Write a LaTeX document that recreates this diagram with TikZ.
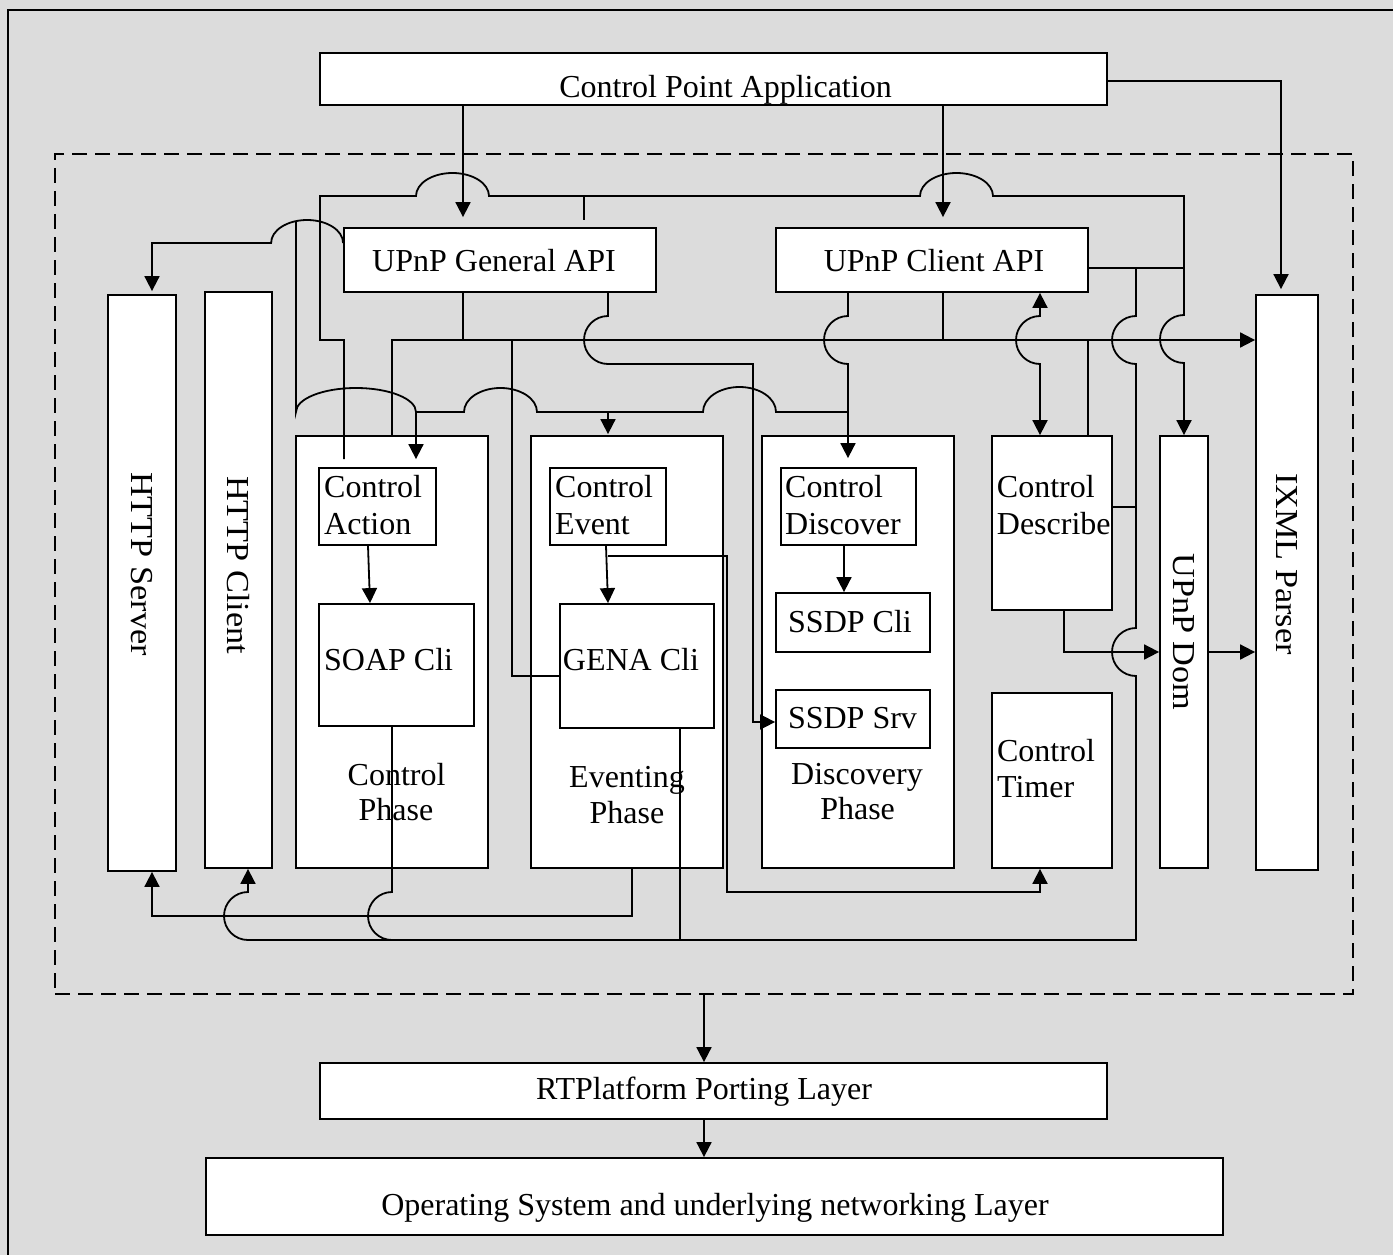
\documentclass[tikz,border=0pt]{standalone}
\usepackage{fontspec}
\setmainfont{Liberation Serif}
\usetikzlibrary{arrows.meta}
\definecolor{bg}{RGB}{220,220,220}
\begin{document}
\begin{tikzpicture}[x=1pt,y=-1pt,
  wire/.style={line width=1.8pt},
  arr/.style={wire,-{Triangle[length=15pt,width=15pt]}},
  darr/.style={wire,{Triangle[length=15pt,width=15pt]}-{Triangle[length=15pt,width=15pt]}},
  box/.style={draw,fill=white,inner sep=0pt,line width=1.8pt},
  txt/.style={inner sep=0pt,anchor=base},
  txtl/.style={inner sep=0pt,anchor=base west},
  vtxt/.style={inner sep=0pt,rotate=-90,xscale=1.07},
  font=\fontsize{32}{37}\selectfont]
\useasboundingbox (0,0) rectangle (1393,1255);
\fill[bg] (0,0) rectangle (1393,1255);
\draw[line width=1.8pt] (8,1255) -- (8,10) -- (1393,10);
% dashed core
\node[draw,line width=1.8pt,dash pattern=on 15pt off 8pt,inner sep=0pt,minimum width=1298pt,minimum height=840pt] (core) at (704,574) {};
% boxes
\node[box,minimum width=787pt,minimum height=52pt] (cpa) at (713.5,79) {};
\node[box,minimum width=312pt,minimum height=64pt] (gen) at (500,260) {};
\node[box,minimum width=312pt,minimum height=64pt] (cli) at (932,260) {};
\node[box,minimum width=68pt,minimum height=576pt] (hsrv) at (142,583) {};
\node[box,minimum width=67pt,minimum height=576pt] (hcli) at (238.5,580) {};
\node[box,minimum width=192pt,minimum height=432pt] (cph) at (392,652) {};
\node[box,minimum width=192pt,minimum height=432pt] (eph) at (627,652) {};
\node[box,minimum width=192pt,minimum height=432pt] (dph) at (858,652) {};
\node[box,minimum width=120pt,minimum height=174pt] (cdes) at (1052,523) {};
\node[box,minimum width=120pt,minimum height=175pt] (ctim) at (1052,780.5) {};
\node[box,minimum width=48pt,minimum height=432pt] (dom) at (1184,652) {};
\node[box,minimum width=62pt,minimum height=575pt] (ixml) at (1287,582.5) {};
\node[box,minimum width=117pt,minimum height=77pt] (cact) at (377.5,506.5) {};
\node[box,minimum width=155pt,minimum height=122pt] (soap) at (396.5,665) {};
\node[box,minimum width=116pt,minimum height=77pt] (cev) at (608,506.5) {};
\node[box,minimum width=154pt,minimum height=124pt] (gena) at (637,666) {};
\node[box,minimum width=135pt,minimum height=77pt] (cdis) at (848.5,506.5) {};
\node[box,minimum width=154pt,minimum height=59pt] (ssdpc) at (853,622.5) {};
\node[box,minimum width=154pt,minimum height=58pt] (ssdps) at (853,719) {};
\node[box,minimum width=787pt,minimum height=56pt] (rtp) at (713.5,1091) {};
\node[box,minimum width=1017pt,minimum height=77pt] (os) at (714.5,1196.5) {};
% texts
\node[txt] (tcpa) at (725.5,97) {Control Point Application};
\node[txt] (tgen) at (494,271.7) {UPnP General API};
\node[txt] (tcli) at (934,271.7) {UPnP Client API};
\node[txtl] (tca1) at (324,497.3) {Control};
\node[txtl] (tca2) at (324,534) {Action};
\node[txtl] (tce1) at (555,497.3) {Control};
\node[txtl] (tce2) at (555,534) {Event};
\node[txtl] (tcd1) at (785,497.7) {Control};
\node[txtl] (tcd2) at (785,534) {Discover};
\node[txtl] (tds1) at (996.7,497.7) {Control};
\node[txtl] (tds2) at (996.7,534) {Describe};
\node[txtl] (tsoap) at (324,670) {SOAP Cli};
\node[txtl] (tgena) at (562.7,670) {GENA Cli};
\node[txt] (tssc) at (850,632.3) {SSDP Cli};
\node[txt] (tsss) at (852.5,728.3) {SSDP Srv};
\node[txt] (tcp1) at (396.6,785) {Control};
\node[txt] (tcp2) at (396,820) {Phase};
\node[txt] (tep1) at (627,787.3) {Eventing};
\node[txt] (tep2) at (627,823.3) {Phase};
\node[txt] (tdp1) at (857,784) {Discovery};
\node[txt] (tdp2) at (857.6,819) {Phase};
\node[txtl] (tct1) at (996.9,761.7) {Control};
\node[txtl] (tct2) at (996.9,797.3) {Timer};
\node[txt] (trtp) at (704,1099.3) {RTPlatform Porting Layer};
\node[txt] (tos) at (715,1215) {Operating System and underlying networking Layer};
\node[vtxt] (thsrv) at (142,564) {HTTP Server};
\node[vtxt] (thcli) at (238.5,565) {HTTP Client};
\node[vtxt] (tdom) at (1184,632) {UPnP Dom};
\node[vtxt] (tixml) at (1287,564) {IXML Parser};
% wires from Control Point Application
\draw[arr,shorten >=10pt] (cpa.south -| 463,0) -- (gen.north -| 463,0);
\draw[arr,shorten >=10pt] (cpa.south -| 943,0) -- (cli.north -| 943,0);
\draw[arr,shorten >=5pt] (cpa.east |- 0,81) -- (1281,81) -- (ixml.north -| 1281,0);
% top bus
\draw[arr,shorten <=8pt] (cact.north -| 344,0) -- (344,340) -- (320,340) -- (320,196) -- (416,196)
  arc[start angle=180,end angle=360,x radius=36.5,y radius=23] -- (920,196)
  arc[start angle=180,end angle=360,x radius=36.5,y radius=23] -- (1184,196) -- (1184,315)
  arc[start angle=-90,end angle=-270,radius=24] -- (dom.north);
\draw[wire,shorten >=7pt] (584,196) -- (gen.north -| 584,0);
% HTTP server feed
\draw[arr,shorten >=3pt] (gen.west |- 0,243) arc[start angle=0,end angle=-180,x radius=36,y radius=23]
  -- (152,243) -- (hsrv.north -| 152,0);
% third bus
\draw[wire] (296,221.5) -- (296,412) arc[start angle=180,end angle=360,x radius=60,y radius=24]
  -- (464,412) arc[start angle=180,end angle=360,x radius=36.5,y radius=24]
  -- (703,412) arc[start angle=180,end angle=360,x radius=36.5,y radius=25] -- (848,412);
\draw[arr,shorten >=8pt] (416,412) -- (cact.north -| 416,0);
\draw[arr,shorten >=1pt] (608,412) -- (eph.north -| 608,0);
% second bus
\draw[arr] (cph.north) -- (392,340) -- (ixml.west |- 0,340);
\draw[wire] (gen.south -| 463,0) -- (463,340);
\draw[wire] (cli.south -| 943,0) -- (943,340);
\draw[wire] (1088,340) -- (cdes.north -| 1088,0);
\draw[wire] (512,340) -- (512,676) -- (gena.west |- 0,676);
% General API to SSDP Srv
\draw[arr] (gen.south -| 608,0) -- (608,316) arc[start angle=-90,end angle=-270,radius=24]
  -- (753,364) -- (753,722) -- (ssdps.west |- 0,722);
% Client API to Control Discover
\draw[arr,shorten >=9pt] (cli.south -| 848,0) -- (848,316) arc[start angle=-90,end angle=-270,radius=24]
  -- (cdis.north -| 848,0);
% Client API <-> Control Describe
\draw[darr] (cli.south -| 1040,0) -- (1040,316) arc[start angle=-90,end angle=-270,radius=24]
  -- (cdes.north -| 1040,0);
% Client API right side
\draw[wire] (cli.east |- 0,268) -- (1184,268);
\draw[arr] (1136,268) -- (1136,316) arc[start angle=-90,end angle=-270,radius=24]
  -- (1136,628) arc[start angle=-90,end angle=-270,radius=24] -- (1136,940) -- (248,940)
  arc[start angle=90,end angle=270,radius=24] -- (hcli.south -| 248,0);
\draw[wire] (cdes.east |- 0,507) -- (1136,507);
\draw[wire] (gena.south -| 680,0) -- (680,940);
\draw[wire] (soap.south -| 392,0) -- (392,892) arc[start angle=-90,end angle=-270,radius=24];
% Eventing phase to HTTP server
\draw[arr] (eph.south -| 632,0) -- (632,916) -- (152,916) -- (hsrv.south -| 152,0);
% Control Event to Control Timer
\draw[arr] (608,556) -- (727,556) -- (727,892) -- (1040,892) -- (ctim.south -| 1040,0);
% inner arrows
\draw[arr] (cact.south -| 368,0) -- (soap.north -| 370,0);
\draw[arr] (cev.south -| 606,0) -- (gena.north -| 608,0);
\draw[arr] (cdis.south -| 844,0) -- (ssdpc.north -| 844,0);
% Describe to Dom to IXML
\draw[arr] (cdes.south -| 1064,0) -- (1064,652) -- (dom.west |- 0,652);
\draw[arr] (dom.east |- 0,652) -- (ixml.west |- 0,652);
% lower layers
\draw[arr] (core.south -| 704,0) -- (rtp.north -| 704,0);
\draw[arr] (rtp.south -| 704,0) -- (os.north -| 704,0);
\end{tikzpicture}
\end{document}
